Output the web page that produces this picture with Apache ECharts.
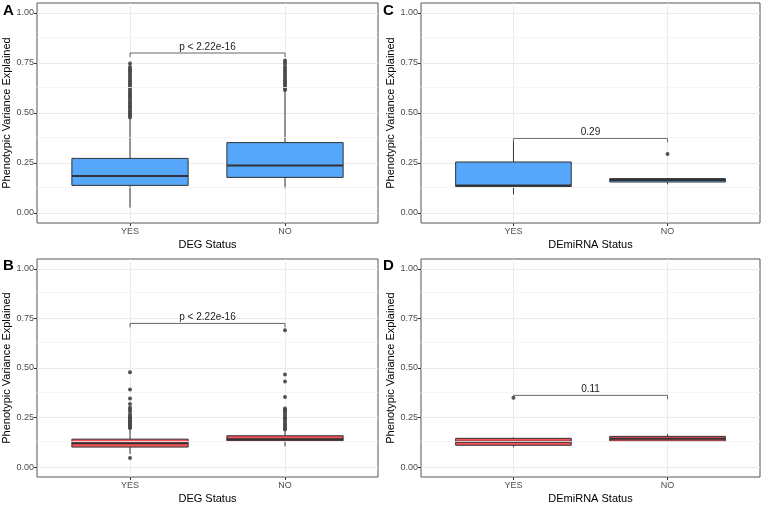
<!DOCTYPE html>
<html>
<head>
<meta charset="utf-8">
<script src="https://cdn.jsdelivr.net/npm/echarts@6/dist/echarts.min.js"></script>
<style>
  html, body { margin: 0; padding: 0; background: #fff; }
  #main { width: 762px; height: 505px; }
</style>
</head>
<body>
<div id="main"></div>
<script>
// data
var catsDEG = ['YES', 'NO'];
var yTicks = [0, 0.25, 0.5, 0.75, 1];
var minorTicks = [0.125, 0.375, 0.625, 0.875];

// box stats: [x, lower whisker, Q1, median, Q3, upper whisker]
var boxA = [[1, 0.027, 0.138, 0.185, 0.273, 0.475], [2, 0.123, 0.178, 0.238, 0.352, 0.61]];
var outYesA = [0.478, 0.485, 0.49, 0.497, 0.505, 0.51, 0.52, 0.53, 0.535, 0.545, 0.55, 0.56, 0.57, 0.58, 0.585,
  0.595, 0.6, 0.61, 0.62, 0.63, 0.64, 0.645, 0.655, 0.66, 0.67, 0.68, 0.69, 0.7, 0.71, 0.715, 0.72, 0.73, 0.748];
var outNoA = [0.615, 0.62, 0.63, 0.64, 0.645, 0.655, 0.66, 0.67, 0.68, 0.69, 0.7, 0.71, 0.72, 0.73, 0.745, 0.755, 0.763];

var boxB = [[1, 0.066, 0.101, 0.12, 0.141, 0.193], [2, 0.105, 0.133, 0.141, 0.158, 0.185]];
var outYesB = [0.046, 0.197, 0.2, 0.205, 0.21, 0.215, 0.22, 0.225, 0.23, 0.235, 0.24, 0.245, 0.25, 0.256, 0.265,
  0.28, 0.29, 0.3, 0.318, 0.346, 0.392, 0.479];
var outNoB = [0.19, 0.195, 0.2, 0.21, 0.215, 0.22, 0.23, 0.24, 0.245, 0.25, 0.26, 0.27, 0.28, 0.285, 0.29, 0.296,
  0.354, 0.432, 0.467, 0.69];

var boxC = [[1, 0.093, 0.132, 0.138, 0.255, 0.357], [2, 0.143, 0.155, 0.165, 0.172, 0.175]];
var outYesC = [];
var outNoC = [0.295];

var boxD = [[1, 0.1, 0.11, 0.128, 0.145, 0.15], [2, 0.131, 0.131, 0.143, 0.155, 0.166]];
var outYesD = [0.35];
var outNoD = [];

// brackets: [x1, x2, y, label]
var sigA = [1, 2, 0.80, 'p < 2.22e-16'];
var sigB = [1, 2, 0.725, 'p < 2.22e-16'];
var sigC = [1, 2, 0.373, '0.29'];
var sigD = [1, 2, 0.362, '0.11'];

var BLUE = '#56A6F9';
var RED = '#F4525A';
var FONT = 'Liberation Sans, Arial, sans-serif';

var myChart = echarts.init(document.getElementById('main'));

var grids = [
  {left: 37, top: 3, width: 341, height: 220},
  {left: 421, top: 3, width: 339, height: 220},
  {left: 37, top: 259, width: 341, height: 220},
  {left: 421, top: 259, width: 339, height: 220}
];

function renderBox(fill) {
  return function (params, api) {
    var x = api.value(0);
    var lo = api.coord([x, api.value(1)]);
    var q1 = api.coord([x - 0.375, api.value(2)]);
    var med = api.coord([x - 0.375, api.value(3)]);
    var q3 = api.coord([x + 0.375, api.value(4)]);
    var hi = api.coord([x, api.value(5)]);
    var ln = {stroke: '#333', lineWidth: 1};
    return {
      type: 'group',
      children: [
        {type: 'line', shape: {x1: lo[0], y1: lo[1], x2: lo[0], y2: q1[1]}, style: ln},
        {type: 'line', shape: {x1: hi[0], y1: q3[1], x2: hi[0], y2: hi[1]}, style: ln},
        {type: 'rect', shape: {x: q1[0], y: q3[1], width: q3[0] - q1[0], height: q1[1] - q3[1]},
          style: {fill: fill, stroke: '#333', lineWidth: 1}},
        {type: 'line', shape: {x1: q1[0], y1: med[1], x2: q3[0], y2: med[1]},
          style: {stroke: '#333', lineWidth: 2}}
      ]
    };
  };
}

function renderSig(params, api) {
  var y = api.value(2);
  var a = api.coord([api.value(0), y]);
  var b = api.coord([api.value(1), y]);
  var ta = api.coord([api.value(0), y - 0.02]);
  var st = {stroke: '#666', lineWidth: 1, fill: null};
  return {
    type: 'group',
    children: [
      {type: 'polyline', shape: {points: [[a[0], ta[1]], a, b, [b[0], ta[1]]]}, style: st},
      {type: 'text', x: (a[0] + b[0]) / 2, y: a[1] - 1,
        style: {text: api.value(3), fill: '#222', font: '10px ' + FONT, align: 'center', verticalAlign: 'bottom'}}
    ]
  };
}

var xAxes = [], yAxes = [], series = [];
var xNames = ['DEG Status', 'DEmiRNA Status', 'DEG Status', 'DEmiRNA Status'];
var boxes = [boxA, boxC, boxB, boxD];
var outs = [[outYesA, outNoA], [outYesC, outNoC], [outYesB, outNoB], [outYesD, outNoD]];
var sigs = [sigA, sigC, sigB, sigD];
var fills = [BLUE, BLUE, RED, RED];

for (var i = 0; i < 4; i++) {
  xAxes.push({
    type: 'value', gridIndex: i, min: 0.4, max: 2.6,
    name: xNames[i], nameLocation: 'middle', nameGap: 16,
    nameTextStyle: {color: '#000', fontSize: 11, fontFamily: FONT},
    axisLine: {show: false, onZero: false},
    axisTick: {show: true, length: 3, customValues: [1, 2], lineStyle: {color: '#333'}},
    axisLabel: {customValues: [1, 2], margin: 4, color: '#4d4d4d', fontSize: 9, fontFamily: FONT,
      formatter: function (v) { return catsDEG[Math.round(v) - 1]; }},
    splitLine: {show: true, lineStyle: {color: '#ebebeb', width: 1}}
  });
  yAxes.push({
    type: 'value', gridIndex: i, min: -0.05, max: 1.05,
    name: 'Phenotypic Variance Explained', nameLocation: 'middle', nameGap: 24,
    nameTextStyle: {color: '#000', fontSize: 11, fontFamily: FONT},
    axisLine: {show: false, onZero: false},
    axisTick: {show: true, length: 3, customValues: yTicks, lineStyle: {color: '#333'}},
    axisLabel: {customValues: yTicks, margin: 3, color: '#4d4d4d', fontSize: 9, fontFamily: FONT,
      formatter: function (v) { return v.toFixed(2); }},
    splitLine: {show: true, lineStyle: {color: '#ebebeb', width: 1}}
  });
  series.push({
    type: 'line', xAxisIndex: i, yAxisIndex: i, data: [], silent: true, z: 1,
    markLine: {silent: true, symbol: ['none', 'none'], label: {show: false}, animation: false,
      lineStyle: {color: '#f3f3f3', width: 0.8, type: 'solid'},
      data: minorTicks.map(function (v) { return {yAxis: v}; })}
  });
  series.push({
    type: 'custom', xAxisIndex: i, yAxisIndex: i, z: 2,
    renderItem: renderBox(fills[i]),
    encode: {x: 0, y: [1, 2, 3, 4, 5]},
    data: boxes[i]
  });
  var pts = [];
  outs[i][0].forEach(function (v) { pts.push([1, v]); });
  outs[i][1].forEach(function (v) { pts.push([2, v]); });
  series.push({
    type: 'scatter', xAxisIndex: i, yAxisIndex: i, z: 3,
    symbolSize: 4, itemStyle: {color: '#4a4a4a', opacity: 0.95},
    data: pts
  });
  series.push({
    type: 'custom', xAxisIndex: i, yAxisIndex: i, z: 4,
    renderItem: renderSig,
    encode: {x: [0, 1], y: 2},
    data: [sigs[i]]
  });
}

option = {
  animation: false,
  backgroundColor: '#fff',
  textStyle: {fontFamily: FONT},
  title: [
    {text: 'A', left: 3, top: 3},
    {text: 'C', left: 383, top: 3},
    {text: 'B', left: 3, top: 258},
    {text: 'D', left: 383, top: 258}
  ].map(function (t) {
    t.padding = 0;
    t.textStyle = {fontSize: 15, fontWeight: 'bold', color: '#000', fontFamily: FONT};
    return t;
  }),
  grid: grids.map(function (g) {
    return Object.assign({show: true, borderColor: '#555', borderWidth: 1, backgroundColor: '#fff'}, g);
  }),
  xAxis: xAxes,
  yAxis: yAxes,
  series: series
};

myChart.setOption(option);
window.onresize = myChart.resize;
</script>
</body>
</html>
